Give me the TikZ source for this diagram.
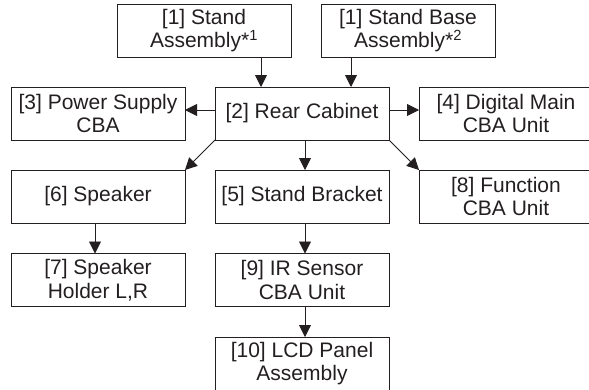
\documentclass[tikz,border=0pt]{standalone}
\usepackage{fontspec}
\setmainfont{Liberation Sans}
\usetikzlibrary{arrows.meta}
\definecolor{ink}{HTML}{231F20}
\begin{document}
\begin{tikzpicture}[x=1pt,y=-1pt,
  box/.style={draw=ink,line width=0.9pt,minimum width=174pt,minimum height=53pt,
    inner sep=0pt,outer sep=0pt,align=center,text=ink,
    font=\fontsize{21}{23.5}\selectfont},
  arr/.style={draw=ink,line width=0.9pt,-{Triangle[length=12pt,width=12pt]}}]
\useasboundingbox (0,0) rectangle (589,389);
\node[box] (s1) at (204,30.5) {[1] Stand\\Assembly*\textsuperscript{1}};
\node[box] (sb) at (408,30.5) {[1] Stand Base\\Assembly*\textsuperscript{2}};
\node[box] (ps) at (98,113.5) {[3] Power Supply\\CBA};
\node[box] (rc) at (302,113.5) {[2] Rear Cabinet};
\node[box] (dm) at (506,113.5) {[4] Digital Main\\CBA Unit};
\node[box] (sp) at (98,196.5) {[6] Speaker};
\node[box] (br) at (302,196.5) {[5] Stand Bracket};
\node[box] (fn) at (506,196.5) {[8] Function\\CBA Unit};
\node[box] (sh) at (98,280) {[7] Speaker\\Holder L,R};
\node[box] (ir) at (302,280) {[9] IR Sensor\\CBA Unit};
\node[box] (lcd) at (302,363.5) {[10] LCD Panel\\Assembly};
\draw[arr] ([xshift=57pt]s1.south) coordinate (a1) -- (a1 |- rc.north);
\draw[arr] ([xshift=-57pt]sb.south) coordinate (a2) -- (a2 |- rc.north);
\draw[arr] ([yshift=3.5pt]rc.west) coordinate (a3) -- (a3 -| ps.east);
\draw[arr] ([yshift=3.5pt]rc.east) coordinate (a4) -- (a4 -| dm.west);
\draw[arr] (rc.south west) -- (sp.north east);
\draw[arr] (rc.south east) -- (fn.north west);
\draw[arr] ([xshift=3pt]rc.south) coordinate (a5) -- (a5 |- br.north);
\draw[arr] ([xshift=-3pt]sp.south) coordinate (a6) -- (a6 |- sh.north);
\draw[arr] ([xshift=3pt]br.south) coordinate (a7) -- (a7 |- ir.north);
\draw[arr] ([xshift=3pt]ir.south) coordinate (a8) -- (a8 |- lcd.north);
\end{tikzpicture}
\end{document}
